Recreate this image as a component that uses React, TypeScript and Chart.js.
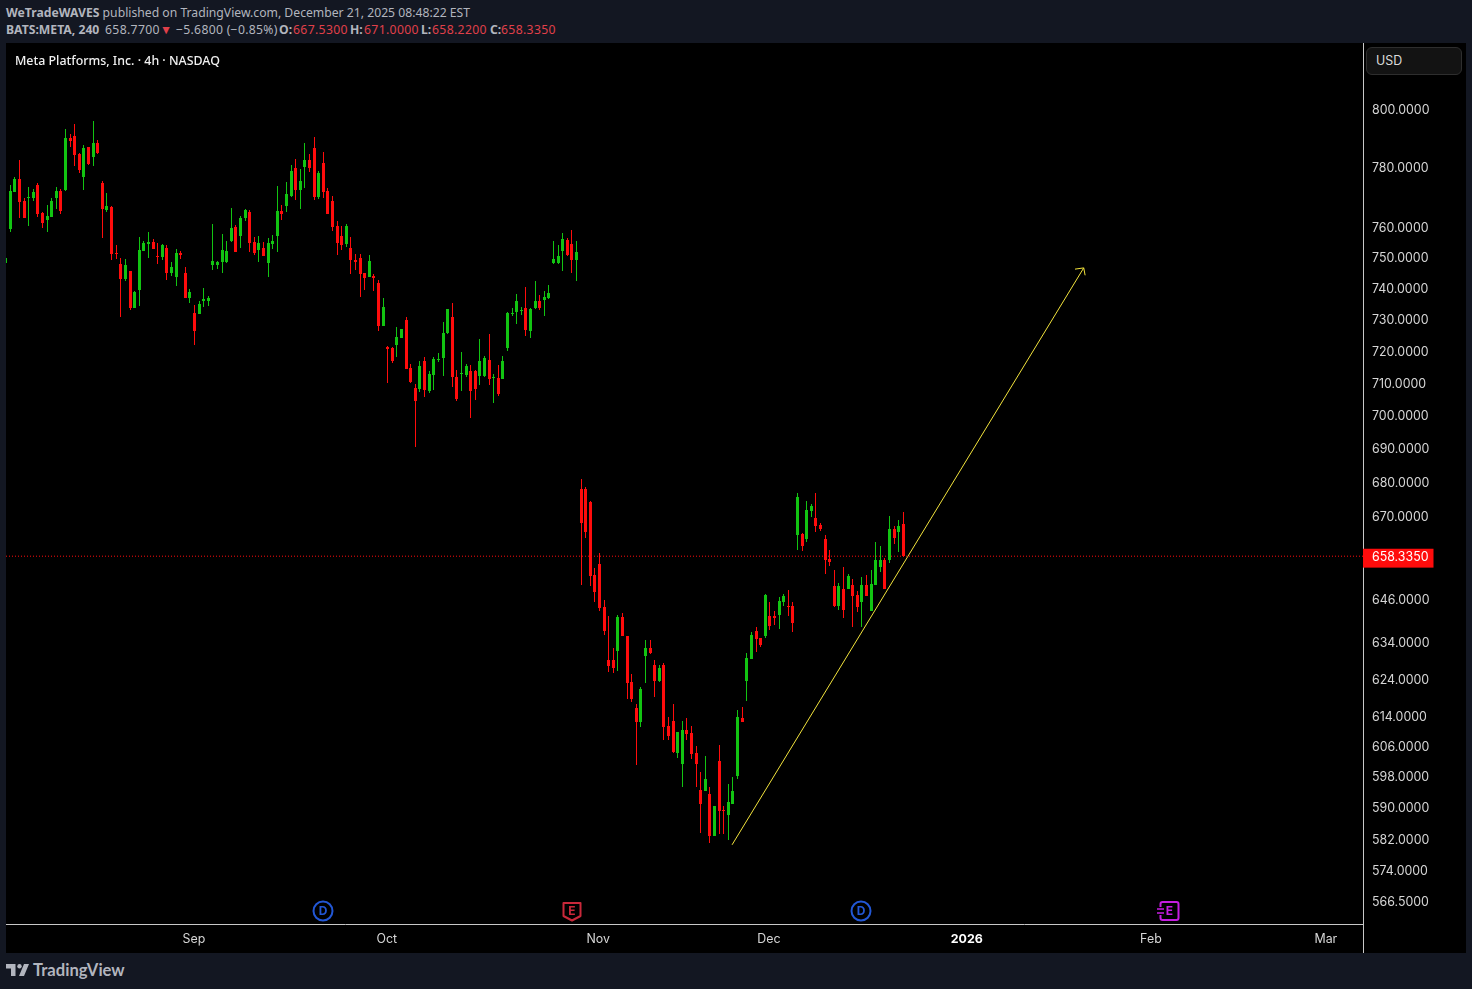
import { useEffect, useRef } from "react";
import { Chart, registerables } from "chart.js";

Chart.register(...registerables);

// Bar 0 is the one cut off by the left edge of the chart
const opens = [
  748.2, 759.3, 771.7, 776.0, 768.7, 769.7, 769.7, 774.0, 764.7, 762.3,
  763.3, 769.7, 772.0, 772.3, 790.0, 790.7, 784.5, 776.7, 786.9, 783.5,
  788.3, 774.7, 765.7, 766.7, 751.3, 747.7, 742.9, 745.5, 733.6, 739.4,
  752.0, 754.3, 755.0, 750.3, 750.0, 753.0, 744.8, 743.5, 751.3, 744.8,
  736.8, 731.9, 731.6, 735.8, 735.8, 747.4, 747.4, 748.4, 748.4, 755.3,
  760.0, 757.0, 763.0, 765.0, 755.0, 752.3, 753.0, 748.1, 754.3, 757.0,
  765.3, 767.0, 770.3, 779.7, 772.3, 780.0, 782.4, 786.6, 770.0, 781.4,
  772.0, 768.7, 760.3, 757.0, 754.3, 753.0, 749.0, 749.7, 744.8, 743.6,
  743.9, 741.6, 727.8, 721.3, 720.9, 721.9, 724.1, 729.7, 714.7, 708.4,
  708.1, 716.9, 707.5, 712.5, 717.2, 717.8, 725.6, 730.6, 711.9, 712.8,
  712.5, 713.8, 713.8, 712.2, 712.2, 717.2, 711.6, 711.6, 711.3, 721.0,
  731.6, 732.3, 732.6, 733.5, 726.3, 733.5, 735.8, 736.1, 736.8, 748.1,
  748.1, 752.0, 755.7, 754.3, 749.0, 677.9, 677.9, 674.2, 652.9, 656.0,
  644.0, 629.3, 629.3, 631.8, 641.2, 635.7, 623.2, 616.2, 612.4, 630.4,
  632.6, 627.9, 623.5, 627.9, 611.3, 612.7, 604.2, 601.4, 610.3, 609.5,
  604.2, 594.6, 594.4, 593.6, 582.8, 602.1, 589.2, 588.2, 591.0, 598.3,
  613.5, 623.5, 629.6, 637.1, 635.4, 635.7, 641.5, 641.5, 641.8, 645.4,
  644.3, 644.3, 664.3, 664.6, 663.4, 671.5, 669.4, 667.4, 663.4, 657.4,
  649.7, 644.3, 649.1, 648.9, 650.0, 647.4, 645.2, 650.0, 642.9, 650.0,
  655.2, 657.2, 657.2, 666.3, 665.4, 667.53,
];
const closes = [
  749.6, 772.0, 776.0, 768.3, 763.0, 770.0, 771.7, 764.3, 761.3, 763.7,
  768.7, 772.0, 765.3, 790.0, 789.0, 784.1, 779.2, 786.6, 781.0, 788.3,
  784.8, 766.0, 767.0, 751.0, 751.0, 742.9, 747.4, 733.6, 738.7, 752.3,
  754.7, 755.0, 752.7, 750.0, 754.0, 744.8, 746.8, 751.3, 750.7, 736.8,
  738.7, 726.3, 734.8, 736.5, 736.8, 748.7, 748.4, 752.3, 752.0, 759.7,
  751.7, 763.0, 765.7, 754.7, 751.3, 754.7, 750.3, 754.7, 755.3, 765.3,
  764.3, 771.0, 778.7, 772.3, 775.3, 782.4, 779.7, 770.0, 778.0, 771.7,
  764.3, 760.0, 754.7, 754.0, 760.3, 749.0, 748.4, 744.5, 743.2, 748.7,
  743.2, 727.8, 733.9, 720.6, 716.9, 724.4, 726.9, 714.4, 710.3, 704.4,
  715.3, 707.8, 712.8, 717.5, 717.5, 725.6, 733.2, 711.9, 705.0, 713.1,
  715.3, 707.5, 708.1, 716.9, 717.8, 711.3, 711.9, 706.6, 716.9, 731.9,
  731.9, 735.8, 732.9, 726.6, 733.2, 735.8, 733.5, 737.1, 738.4, 749.4,
  750.3, 756.0, 750.7, 749.0, 751.7, 668.0, 665.4, 652.6, 648.0, 643.7,
  637.3, 627.6, 627.1, 641.2, 635.7, 622.9, 618.6, 612.4, 621.3, 632.6,
  631.2, 623.5, 627.1, 611.1, 608.7, 604.5, 609.7, 610.3, 609.3, 603.9,
  601.4, 590.8, 597.5, 582.8, 590.3, 589.0, 589.0, 591.5, 594.4, 613.7,
  612.4, 629.8, 636.0, 635.1, 633.2, 647.4, 638.7, 640.7, 645.7, 646.9,
  644.0, 639.3, 675.5, 661.2, 671.8, 673.0, 667.2, 666.3, 657.2, 656.6,
  644.3, 649.7, 643.2, 652.6, 647.1, 643.8, 650.0, 647.1, 650.3, 657.2,
  657.2, 649.1, 666.3, 663.7, 667.2, 658.335,
];
const highs = [
  749.6, 774.0, 776.7, 782.6, 769.7, 773.3, 772.7, 774.7, 765.0, 767.3,
  769.7, 773.3, 772.7, 793.1, 791.4, 794.8, 784.8, 787.6, 786.9, 795.9,
  789.3, 775.3, 771.3, 767.0, 754.0, 749.7, 749.4, 745.5, 739.0, 756.7,
  755.3, 758.3, 756.0, 754.7, 754.3, 754.0, 748.4, 752.7, 752.0, 746.8,
  739.7, 734.5, 735.8, 740.0, 737.4, 761.0, 748.7, 757.7, 755.3, 766.3,
  760.7, 763.7, 766.0, 765.7, 756.7, 757.0, 755.0, 756.3, 757.3, 773.7,
  767.3, 775.0, 780.7, 782.8, 779.3, 788.3, 784.5, 790.4, 778.7, 785.2,
  773.0, 770.3, 762.0, 760.3, 761.0, 756.7, 751.0, 751.0, 744.8, 750.7,
  744.5, 742.6, 736.8, 721.6, 721.3, 727.5, 726.9, 730.6, 715.9, 709.7,
  716.9, 718.1, 713.8, 718.1, 719.4, 729.1, 733.2, 735.2, 714.1, 719.7,
  715.9, 715.6, 714.1, 723.8, 718.4, 725.3, 712.8, 715.6, 718.4, 732.3,
  733.5, 738.1, 733.9, 740.3, 733.5, 742.3, 737.7, 739.0, 741.0, 755.3,
  754.0, 758.0, 756.3, 759.0, 755.3, 680.9, 678.5, 674.5, 654.9, 659.2,
  646.0, 641.5, 632.6, 641.8, 642.1, 635.7, 625.4, 617.2, 621.8, 634.8,
  634.6, 629.3, 627.9, 628.4, 613.7, 617.2, 609.7, 612.7, 613.5, 611.3,
  606.0, 599.3, 603.4, 595.2, 590.5, 606.3, 590.5, 596.0, 598.0, 615.6,
  616.4, 631.2, 636.8, 638.2, 635.4, 647.7, 645.2, 642.9, 646.6, 647.7,
  648.6, 645.2, 676.7, 665.1, 674.5, 673.6, 676.7, 668.0, 664.3, 660.0,
  654.3, 650.6, 655.2, 653.2, 651.7, 648.3, 652.3, 652.9, 654.3, 662.3,
  661.2, 657.7, 670.0, 667.2, 668.9, 671.0,
];
const lows = [
  748.2, 758.3, 771.7, 763.0, 763.0, 760.3, 768.7, 763.3, 759.7, 758.3,
  763.3, 766.0, 764.3, 772.0, 786.9, 780.3, 778.0, 772.3, 780.7, 780.3,
  784.5, 756.3, 765.0, 749.0, 749.4, 730.6, 742.3, 732.9, 733.6, 734.2,
  752.0, 749.7, 752.7, 747.7, 749.0, 742.6, 743.9, 740.6, 749.4, 736.8,
  735.2, 721.9, 731.6, 733.9, 734.2, 745.8, 746.1, 744.8, 748.1, 755.0,
  751.7, 753.0, 762.0, 751.7, 750.7, 748.4, 750.3, 743.6, 752.7, 751.7,
  762.3, 765.0, 770.0, 769.0, 766.0, 773.0, 778.3, 769.0, 769.3, 769.7,
  764.3, 758.7, 750.7, 752.3, 753.3, 744.5, 745.8, 737.1, 739.4, 743.6,
  739.0, 726.3, 727.8, 710.0, 716.3, 718.1, 724.1, 714.4, 710.0, 690.3,
  707.2, 705.6, 706.9, 707.8, 716.6, 712.2, 725.3, 708.8, 704.4, 707.5,
  711.9, 699.1, 704.7, 709.4, 711.9, 709.4, 703.7, 705.9, 711.3, 720.0,
  731.0, 728.4, 731.3, 724.7, 724.1, 733.2, 732.9, 731.0, 736.5, 747.7,
  747.7, 745.5, 750.3, 744.8, 742.3, 650.0, 663.7, 649.7, 645.4, 642.9,
  636.0, 625.9, 625.7, 626.2, 635.7, 618.6, 617.8, 601.1, 611.1, 622.9,
  630.9, 619.1, 623.2, 607.7, 607.7, 604.2, 602.9, 595.2, 607.7, 602.6,
  595.4, 583.6, 594.4, 581.0, 582.8, 583.3, 583.3, 581.7, 591.0, 597.5,
  612.4, 618.1, 629.6, 631.5, 632.9, 635.4, 637.6, 639.0, 637.9, 644.3,
  641.5, 636.8, 660.0, 659.7, 662.3, 669.7, 665.4, 665.7, 653.2, 655.4,
  643.8, 643.2, 640.7, 648.9, 638.4, 642.4, 638.4, 646.9, 642.9, 650.0,
  653.7, 649.1, 656.3, 661.7, 659.4, 658.22,
];

const priceTicks = [
  800, 780, 760, 750, 740, 730, 720, 710, 700, 690, 680, 670, 658.335, 646,
  634, 624, 614, 606, 598, 590, 582, 574, 566.5,
];
const lastPrice = 658.335;

const monthBars = [39.9, 81.8, 127.7, 164.8, 207.8, 247.8, 285.8];
const monthLabels = ["Sep", "Oct", "Nov", "Dec", "2026", "Feb", "Mar"];

const eventBars = [67.9, 122, 184.8, 251.7];
const eventKinds = ["dividend", "earnings", "dividend", "upcoming"];

const trendBars = [156.8, 233.2];
const trendPrices = [580.5, 746.5];
const arrowBars = [231.3, 233.2, 233.5];
const arrowPrices = [746.1, 746.5, 744.1];

const X_MIN = -0.94;
const X_MAX = 293.87;

const UP = "#12C412";
const DOWN = "#FF0C0C";
const HEADER_FONT = '"Noto Sans", sans-serif';
const AXIS_FONT = "Inter, sans-serif";

const barIndex = opens.map((_, i) => i - 1);
const barColors = opens.map((o, i) => (closes[i] >= o ? UP : DOWN));

// Keep the candles crisp, TradingView draws them on whole pixels
const snapBars = {
  id: "snapBars",
  afterDatasetsUpdate(chart: any) {
    chart.getSortedVisibleDatasetMetas().forEach((meta: any) => {
      if (meta.type !== "bar") return;
      meta.data.forEach((bar: any) => {
        bar.x = Math.round(bar.x - 0.5) + 0.5;
        bar.y = Math.round(bar.y);
        bar.base = Math.round(bar.base);
        if (bar.base - bar.y < 1) bar.base = bar.y + 1;
      });
    });
  },
};

// Price labels sit one pixel lower than Chart.js centres them
const nudgePriceLabels = {
  id: "nudgePriceLabels",
  beforeDraw(chart: any) {
    chart.scales.y.getLabelItems(chart.chartArea).forEach((item: any) => {
      item.options.translation[1] += 1;
      if (item.options.backdrop) item.options.backdrop.top += 1;
    });
  },
};

// The dividend and earnings badges along the time axis
const eventBadges = {
  id: "eventBadges",
  afterDraw(chart: any) {
    const { ctx, scales } = chart;
    const cy = 868;
    eventBars.forEach((bar, i) => {
      const kind = eventKinds[i];
      const cx = Math.round(scales.x.getPixelForValue(bar));
      ctx.save();
      ctx.lineWidth = 2;
      ctx.textAlign = "center";
      ctx.textBaseline = "middle";
      ctx.font = `700 12px ${AXIS_FONT}`;
      if (kind === "dividend") {
        ctx.strokeStyle = ctx.fillStyle = "#2257D6";
        ctx.beginPath();
        ctx.arc(cx, cy, 9.5, 0, Math.PI * 2);
        ctx.stroke();
        ctx.fillText("D", cx, cy + 0.5);
      } else if (kind === "earnings") {
        ctx.strokeStyle = ctx.fillStyle = "#C9283A";
        ctx.lineJoin = "round";
        ctx.beginPath();
        ctx.moveTo(cx - 8.5, cy - 8);
        ctx.lineTo(cx + 8.5, cy - 8);
        ctx.lineTo(cx + 8.5, cy + 5);
        ctx.lineTo(cx, cy + 9.5);
        ctx.lineTo(cx - 8.5, cy + 5);
        ctx.closePath();
        ctx.stroke();
        ctx.fillText("E", cx, cy);
      } else {
        ctx.strokeStyle = ctx.fillStyle = "#C51DE0";
        ctx.beginPath();
        ctx.roundRect(cx - 8.5, cy - 9, 18, 18, 2);
        ctx.stroke();
        ctx.fillText("E", cx + 0.5, cy + 0.5);
        ctx.lineWidth = 1.5;
        ctx.clearRect(cx - 10, cy - 4, 4, 8);
        ctx.beginPath();
        ctx.moveTo(cx - 12, cy - 2);
        ctx.lineTo(cx - 5, cy - 2);
        ctx.moveTo(cx - 12, cy + 2);
        ctx.lineTo(cx - 5, cy + 2);
        ctx.stroke();
      }
      ctx.restore();
    });
  },
};

function CandleChart() {
  const canvasRef = useRef<HTMLCanvasElement | null>(null);

  useEffect(() => {
    if (!canvasRef.current) return;

    const chart = new Chart(canvasRef.current, {
      type: "bar",
      data: {
        datasets: [
          {
            type: "line",
            label: "Last price",
            data: [
              { x: X_MIN, y: lastPrice },
              { x: X_MAX, y: lastPrice },
            ],
            borderColor: "#FF0C0C",
            borderWidth: 1,
            borderDash: [1, 2],
            pointRadius: 0,
            order: 3,
          },
          {
            label: "Wicks",
            data: barIndex.map((x, i) => ({ x, y: [lows[i], highs[i]] })),
            backgroundColor: barColors,
            barThickness: 1,
            grouped: false,
            minBarLength: 1,
            inflateAmount: 0,
            order: 2,
          },
          {
            label: "Bodies",
            data: barIndex.map((x, i) => ({ x, y: [opens[i], closes[i]] })),
            backgroundColor: barColors,
            barThickness: 3,
            grouped: false,
            minBarLength: 1,
            inflateAmount: 0,
            order: 1,
          },
          {
            type: "line",
            label: "Trend",
            data: trendBars.map((x, i) => ({ x, y: trendPrices[i] })),
            borderColor: "#F2E33C",
            borderWidth: 1,
            pointRadius: 0,
            order: 0,
          },
          {
            type: "line",
            label: "Arrow head",
            data: arrowBars.map((x, i) => ({ x, y: arrowPrices[i] })),
            borderColor: "#F2E33C",
            borderWidth: 1,
            pointRadius: 0,
            order: 0,
          },
        ],
      } as any,
      options: {
        responsive: false,
        animation: false,
        devicePixelRatio: 1,
        layout: { padding: 0, autoPadding: false },
        plugins: {
          legend: { display: false },
          title: { display: false },
          tooltip: { enabled: false },
        },
        scales: {
          x: {
            type: "linear",
            min: X_MIN,
            max: X_MAX,
            offset: false,
            grid: { display: false, drawTicks: false },
            border: { color: "#C8C8C8" },
            afterFit(scale: any) {
              scale.height = 29;
              scale.paddingLeft = 0;
              scale.paddingRight = 0;
            },
            afterBuildTicks(scale: any) {
              scale.ticks = monthBars.map((value) => ({ value }));
            },
            ticks: {
              autoSkip: false,
              maxRotation: 0,
              padding: 8,
              color: (ctx: any) =>
                ctx.index === 4 ? "#FFFFFF" : "#D6D6D6",
              font: (ctx: any) => ({
                family: AXIS_FONT,
                size: 12.4,
                weight: ctx.index === 4 ? 700 : 400,
              }),
              callback: (_v: any, i: number) => monthLabels[i],
            },
          },
          y: {
            type: "logarithmic",
            position: "right",
            min: 560.8,
            max: 823.4,
            grid: { display: false, drawTicks: false },
            border: { color: "#C8C8C8" },
            afterFit(scale: any) {
              scale.width = 103;
              scale.paddingTop = 0;
              scale.paddingBottom = 0;
            },
            afterBuildTicks(scale: any) {
              scale.ticks = priceTicks.map((value) => ({ value }));
            },
            ticks: {
              autoSkip: false,
              padding: 9,
              color: (ctx: any) =>
                ctx.tick.value === lastPrice ? "#FFFFFF" : "#D6D6D6",
              font: { family: AXIS_FONT, size: 12.4 },
              showLabelBackdrop: (ctx: any) => ctx.tick.value === lastPrice,
              backdropColor: "#FF0C0C",
              backdropPadding: { left: 9, right: 5, top: 2, bottom: 2 },
              callback: (v: any) => Number(v).toFixed(4),
            },
          },
        },
      } as any,
      plugins: [snapBars, nudgePriceLabels, eventBadges],
    });

    return () => chart.destroy();
  }, []);

  return (
    <canvas
      ref={canvasRef}
      width={1460}
      height={910}
      style={{ position: "absolute", left: 6, top: 43, width: 1460, height: 910 }}
    />
  );
}

export default function App() {
  const muted = "#B2B5BE";
  const quoteRed = "#E0404A";
  const quoteLine = {
    position: "absolute",
    top: 22,
    fontSize: 12.2,
    lineHeight: "16px",
    color: muted,
    whiteSpace: "pre",
  } as const;

  useEffect(() => {
    document.body.style.margin = "0";
    document.body.style.background = "#131722";
  }, []);

  return (
    <div
      style={{
        position: "relative",
        width: 1472,
        height: 989,
        background: "#131722",
        overflow: "hidden",
        fontFamily: HEADER_FONT,
      }}
    >
      <div style={{ ...quoteLine, left: 6, top: 5 }}>
        <b>WeTradeWAVES</b> published on TradingView.com, December 21, 2025 08:48:22 EST
      </div>
      <div style={{ ...quoteLine, left: 6 }}><b>BATS:META, 240</b></div>
      <div style={{ ...quoteLine, left: 105, letterSpacing: 0.35 }}>658.7700</div>
      <div style={{ ...quoteLine, left: 160, color: quoteRed }}>▼</div>
      <div style={{ ...quoteLine, left: 176, letterSpacing: 0.3 }}>−5.6800 (−0.85%)</div>
      <div style={{ ...quoteLine, left: 279 }}><b>O:</b></div>
      <div style={{ ...quoteLine, left: 293, letterSpacing: 0.35, color: quoteRed }}>667.5300</div>
      <div style={{ ...quoteLine, left: 350 }}><b>H:</b></div>
      <div style={{ ...quoteLine, left: 364, letterSpacing: 0.35, color: quoteRed }}>671.0000</div>
      <div style={{ ...quoteLine, left: 421 }}><b>L:</b></div>
      <div style={{ ...quoteLine, left: 432, letterSpacing: 0.35, color: quoteRed }}>658.2200</div>
      <div style={{ ...quoteLine, left: 490 }}><b>C:</b></div>
      <div style={{ ...quoteLine, left: 501, letterSpacing: 0.35, color: quoteRed }}>658.3350</div>

      <div style={{ position: "absolute", left: 6, top: 43, width: 1460, height: 910, background: "#000" }} />
      <CandleChart />
      <div style={{ position: "absolute", left: 1363, top: 924, width: 1, height: 29, background: "#C8C8C8" }} />

      <div style={{ position: "absolute", left: 15, top: 52, fontSize: 12.4, lineHeight: "17px", fontWeight: 500, color: "#F0F0F0", whiteSpace: "pre" }}>
        Meta Platforms, Inc. · 4h · NASDAQ
      </div>

      <div
        style={{
          position: "absolute",
          left: 1366,
          top: 47,
          width: 94,
          height: 26,
          background: "#131313",
          border: "1px solid #2E2E2E",
          borderRadius: 6,
          fontFamily: AXIS_FONT,
          fontSize: 12.4,
          lineHeight: "26px",
          color: "#DBDBDB",
          textIndent: 9,
        }}
      >
        USD
      </div>

      <svg style={{ position: "absolute", left: 6, top: 963 }} width="23" height="14" viewBox="0 0 23 14">
        <path d="M0 1h9.5v12H5V5.5H0z M23 1l-5 12h-5l5-12z" fill={muted} />
        <circle cx="13.5" cy="3.2" r="2.2" fill={muted} />
      </svg>
      <div style={{ position: "absolute", left: 33, top: 959, fontFamily: "Lato, sans-serif", fontSize: 16.6, lineHeight: "22px", fontWeight: 700, color: muted }}>
        TradingView
      </div>
    </div>
  );
}
